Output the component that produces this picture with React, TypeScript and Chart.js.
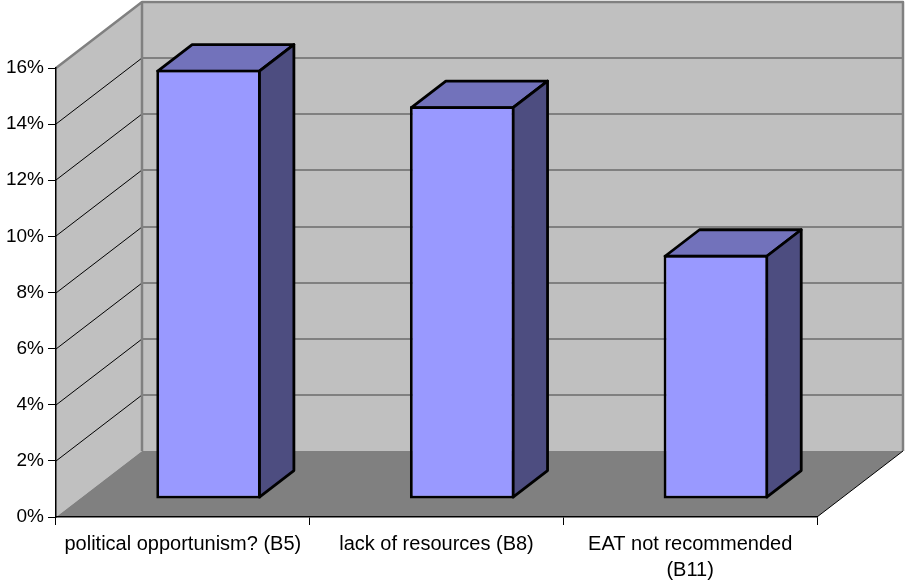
import React, { useEffect, useRef } from "react";
import { Chart, registerables } from "chart.js";

Chart.register(...registerables);

const categories = [
  "political opportunism? (B5)",
  "lack of resources (B8)",
  ["EAT not recommended", "(B11)"],
];
const shares = [15.3, 14.0, 8.7];
const yTicks = { min: 0, max: 16, step: 2 };

const WALL = "#c0c0c0";
const FLOOR = "#808080";
const EDGE = "#808080";
const BAR_FRONT = "#9999ff";
const BAR_TOP = "#7272bb";
const BAR_SIDE = "#4d4d80";
const BAR_LINE = 2.8;

// Oblique projection of the chart box
const DEPTH_X = 86;
const DEPTH_Y = 66;
const BAR_INSET_X = 25.7;
const BAR_INSET_Y = 18;
const BAR_DEPTH_X = 34.5;
const BAR_DEPTH_Y = 26.5;

function poly(ctx: CanvasRenderingContext2D, pts: number[][], fill?: string, stroke?: string, lw = 1) {
  ctx.beginPath();
  pts.forEach(([x, y], i) => (i ? ctx.lineTo(x, y) : ctx.moveTo(x, y)));
  if (fill) {
    ctx.closePath();
    ctx.fillStyle = fill;
    ctx.fill();
  }
  if (stroke) {
    ctx.strokeStyle = stroke;
    ctx.lineWidth = lw;
    ctx.lineJoin = "round";
    ctx.stroke();
  }
}

// Side wall, back wall, floor and the gridlines that fold across the walls
const boxPlugin = {
  id: "box3d",
  beforeDraw(chart: any) {
    const { ctx, chartArea: a, scales } = chart;
    const { left: l, right: r, top: t, bottom: b } = a;
    ctx.save();
    poly(ctx, [[l + DEPTH_X, t - DEPTH_Y], [r + DEPTH_X, t - DEPTH_Y], [r + DEPTH_X, b - DEPTH_Y], [l + DEPTH_X, b - DEPTH_Y]], WALL);
    poly(ctx, [[l, t], [l + DEPTH_X, t - DEPTH_Y], [l + DEPTH_X, b - DEPTH_Y], [l, b]], WALL);
    poly(ctx, [[l, b], [l + DEPTH_X, b - DEPTH_Y], [r + DEPTH_X, b - DEPTH_Y], [r, b]], FLOOR);

    for (let v = yTicks.min + yTicks.step; v < yTicks.max; v += yTicks.step) {
      const y = Math.round(scales.y.getPixelForValue(v));
      poly(ctx, [[l, y], [l + DEPTH_X, y - DEPTH_Y]], undefined, "#000000", 1);
      poly(ctx, [[l + DEPTH_X, y - DEPTH_Y], [r + DEPTH_X, y - DEPTH_Y]], undefined, "#404040", 1.2);
    }

    // Grey frame of the walls
    poly(ctx, [[l, t], [l + DEPTH_X, t - DEPTH_Y], [r + DEPTH_X, t - DEPTH_Y], [r + DEPTH_X, b - DEPTH_Y]], undefined, EDGE, 2.5);
    poly(ctx, [[l + DEPTH_X, t - DEPTH_Y], [l + DEPTH_X, b - DEPTH_Y]], undefined, EDGE, 2.5);
    poly(ctx, [[r, b], [r + DEPTH_X, b - DEPTH_Y]], undefined, "#000000", 1);
    ctx.restore();
  },
  beforeDatasetDraw(chart: any, args: any) {
    const { ctx } = chart;
    ctx.save();
    ctx.translate(BAR_INSET_X, -BAR_INSET_Y);
    // Top and right faces of every column, then the library draws its front face
    for (const el of chart.getDatasetMeta(args.index).data) {
      const p = el.getProps(["x", "y", "base", "width"], true);
      const inset = BAR_LINE / 2;
      const x0 = p.x - p.width / 2 + inset;
      const x1 = p.x + p.width / 2 - inset;
      const top = p.y + inset;
      const bot = p.base - inset;
      poly(ctx, [[x0, top], [x0 + BAR_DEPTH_X, top - BAR_DEPTH_Y], [x1 + BAR_DEPTH_X, top - BAR_DEPTH_Y], [x1, top]], BAR_TOP, "#000000", BAR_LINE);
      poly(ctx, [[x1, top], [x1 + BAR_DEPTH_X, top - BAR_DEPTH_Y], [x1 + BAR_DEPTH_X, bot - BAR_DEPTH_Y], [x1, bot]], BAR_SIDE, "#000000", BAR_LINE);
    }
  },
  afterDatasetDraw(chart: any) {
    chart.ctx.restore();
  },
};

export default function App() {
  const ref = useRef<HTMLCanvasElement>(null);

  useEffect(() => {
    document.body.style.margin = "0";
    const chart = new Chart(ref.current!, {
      type: "bar",
      data: {
        labels: categories as any,
        datasets: [
          {
            data: shares,
            backgroundColor: BAR_FRONT,
            borderColor: "#000000",
            borderWidth: BAR_LINE,
            borderSkipped: false,
            categoryPercentage: 1,
            barPercentage: 0.412,
          },
        ],
      },
      options: {
        responsive: false,
        animation: false,
        layout: { padding: { left: 0, right: 88, top: 68, bottom: 0 } },
        plugins: { legend: { display: false }, tooltip: { enabled: false } },
        scales: {
          x: {
            afterFit: (s: any) => {
              s.height = 63;
            },
            grid: { drawOnChartArea: false, tickLength: 8, tickColor: "#000000", offset: true },
            border: { color: "#000000", width: 1.5 },
            ticks: {
              color: "#000000",
              maxRotation: 0,
              minRotation: 0,
              autoSkip: false,
              padding: 6,
              font: { family: "'Liberation Sans'", size: 20, lineHeight: 1.3 },
            },
          },
          y: {
            min: yTicks.min,
            max: yTicks.max,
            afterFit: (s: any) => {
              s.width = 56;
            },
            grid: { drawOnChartArea: false, tickLength: 8, tickColor: "#000000" },
            border: { color: "#000000", width: 1.5 },
            ticks: {
              stepSize: yTicks.step,
              color: "#000000",
              padding: 4,
              font: { family: "'Liberation Sans'", size: 19 },
              callback: (v: any) => `${v}%`,
            },
          },
        },
      },
      plugins: [boxPlugin],
    });
    return () => chart.destroy();
  }, []);

  return (
    <div style={{ width: 905, height: 580, background: "#ffffff" }}>
      <canvas ref={ref} width={905} height={580} style={{ display: "block" }} />
    </div>
  );
}
